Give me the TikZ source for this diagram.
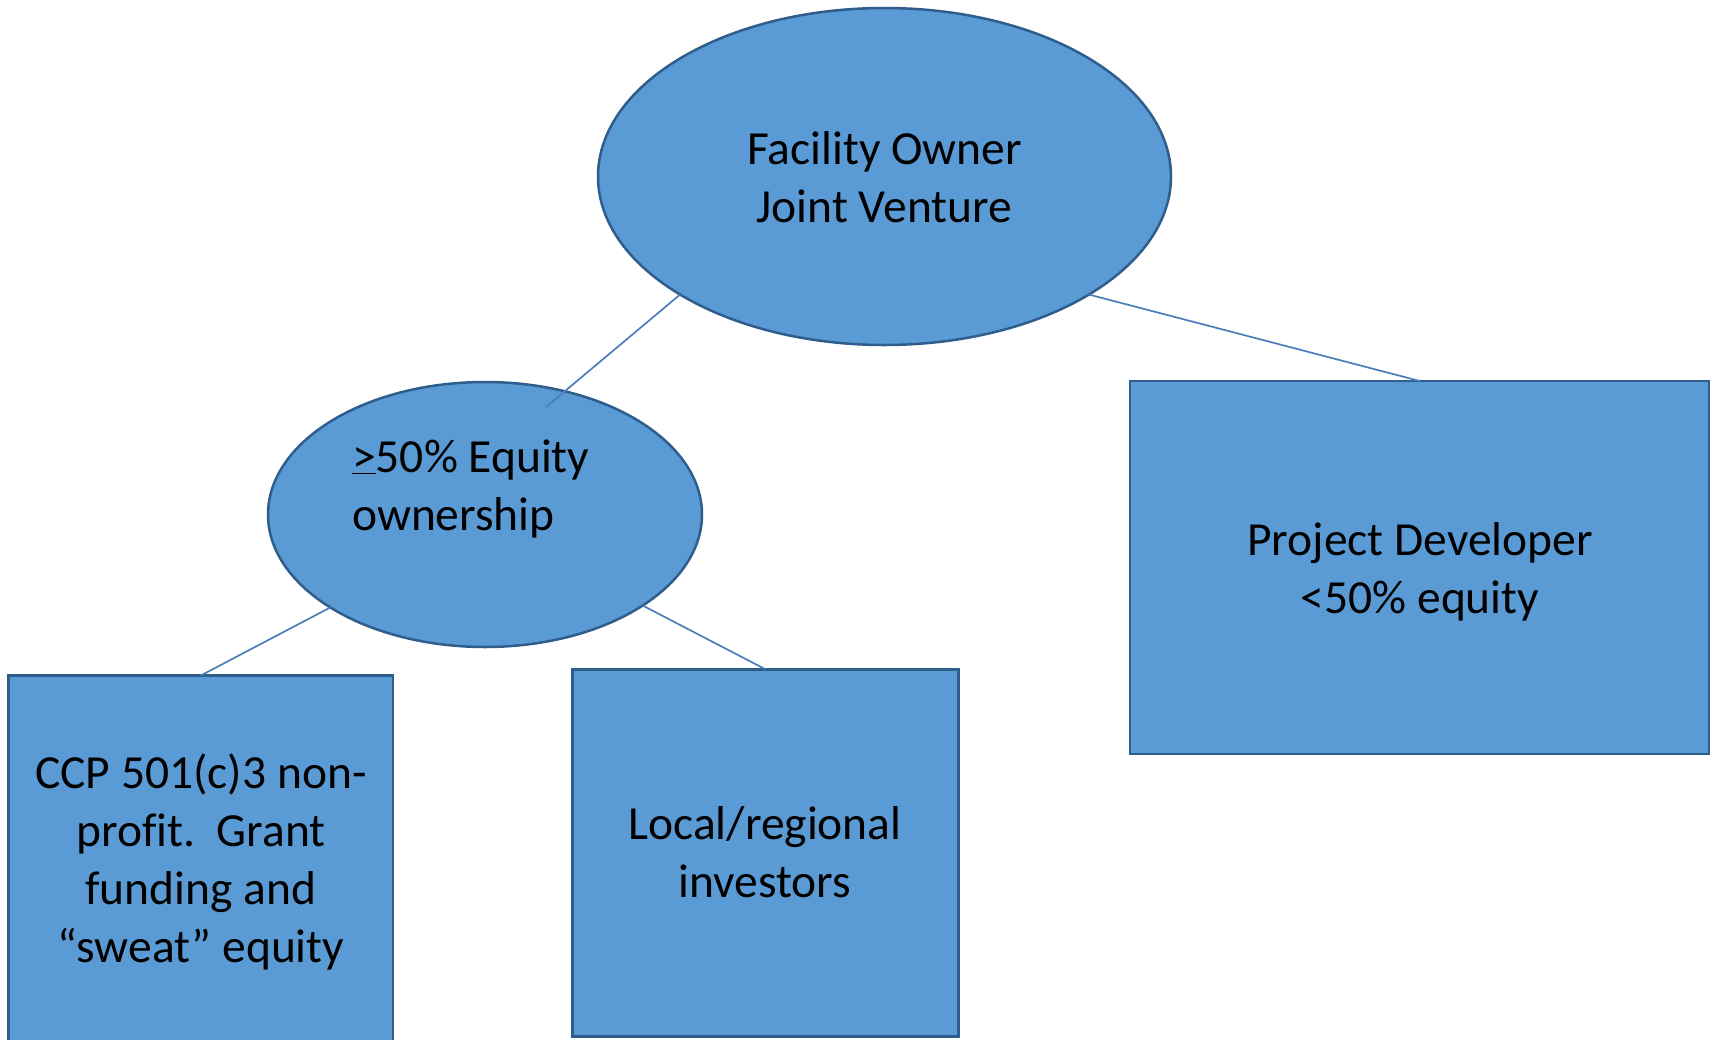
\documentclass[tikz,border=0pt]{standalone}
\usepackage{fontspec}
\setmainfont{Carlito}[Ligatures=NoCommon]
\usetikzlibrary{shapes.geometric}
\definecolor{fillblue}{HTML}{5B9BD5}
\definecolor{edgeblue}{HTML}{2F5D8C}
\definecolor{linkblue}{HTML}{4A7EBB}
\begin{document}
\begin{tikzpicture}[x=1pt,y=-1pt,
  shapebox/.style={draw=edgeblue,fill=fillblue,line width=2.5pt,inner sep=0pt,outer sep=0pt},
  ell/.style={shapebox,ellipse},
  rect/.style={shapebox,rectangle},
  lbl/.style={anchor=base,inner sep=0pt,font=\fontsize{47.5}{58}\selectfont},
  link/.style={draw=linkblue,line width=1.7pt}]
\clip (0,0) rectangle (1715,1039);
% shapes
\node[ell,minimum width=573pt,minimum height=337pt] (fo) at (884.5,176.5) {};
\node[ell,minimum width=434pt,minimum height=265pt] (eq) at (485,514.5) {};
\node[rect,minimum width=579pt,minimum height=373pt] (pd) at (1419.7,567.5) {};
\node[rect,minimum width=384.5pt,minimum height=420pt] (ccp) at (200.75,885.5) {};
\node[rect,minimum width=385.6pt,minimum height=367.4pt] (li) at (765.5,853) {};
% labels
\node[lbl] (fot) at (884.5,164) {\begin{tabular}[t]{@{}c@{}}Facility Owner\\Joint Venture\end{tabular}};
\node[lbl,anchor=base west] (eqt) at (352,472) {\begin{tabular}[t]{@{}l@{}}\underline{>}50\% Equity\\ownership\end{tabular}};
\node[lbl] (pdt) at (1420,555) {\begin{tabular}[t]{@{}c@{}}Project Developer\\<50\% equity\end{tabular}};
\node[lbl] (ccpt) at (201,788) {\begin{tabular}[t]{@{}c@{}}CCP 501(c)3 non-\\profit.\ \ Grant\\funding and\\“sweat” equity\end{tabular}};
\node[lbl] (lit) at (765,839.5) {\begin{tabular}[t]{@{}c@{}}Local/regional\\investors\end{tabular}};
% connectors
\coordinate (m1) at (546,407);
\draw[link] (fo.210.6) -- (m1);
\draw[link] (fo.-30.4) -- (pd.north);
\draw[link] (eq.211.8) -- (ccp.north);
\draw[link] (eq.-30.1) -- (li.north);
\end{tikzpicture}
\end{document}
